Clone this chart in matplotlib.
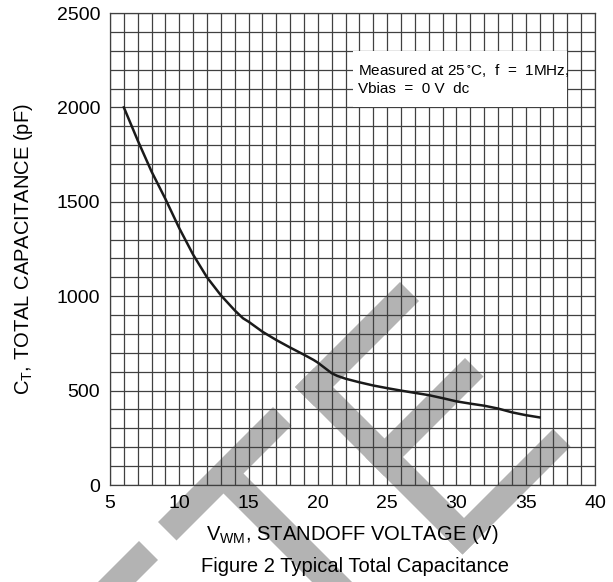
import numpy as np
import matplotlib
matplotlib.use('Agg')
import matplotlib.pyplot as plt
from matplotlib.patches import Polygon, Rectangle

plt.rcParams['font.family'] = ['Liberation Sans', 'DejaVu Sans']

# curve
volts = [6, 7, 8, 9, 10, 11, 12, 13, 14, 14.6, 15, 16, 17, 18, 19, 19.7, 20, 21, 21.4,
         22, 23, 24, 25, 26, 27, 28, 29, 30, 31, 32, 33, 34, 35, 36]
cap_pf = [2000, 1825, 1660, 1515, 1360, 1220, 1100, 1005, 925, 883, 865, 812, 768, 728, 690, 662,
          648, 592, 578, 563, 544, 527, 513, 500, 488, 476, 460, 443, 431, 420, 405, 385, 370, 358]

x_ticks = [5, 10, 15, 20, 25, 30, 35, 40]
y_ticks = [0, 500, 1000, 1500, 2000, 2500]
note_lines = ['Measured at 25$\\mathregular{\\,^{\\circ}}$C,  f  =  1MHz,', 'Vbias  =  0 V  dc']

W, H = 613, 582
fig = plt.figure(figsize=(W / 100, H / 100), dpi=100)
ax = fig.add_axes([110 / W, 1 - 485 / H, 485 / W, 472 / H])
ax.patch.set_visible(False)

# grey watermark strokes, (s0, s1, d0, d1) in pixel s=x+y, d=y-x
marks = [(680, 718, 402, 700), (680, 717, 134, 364), (716, 1000, 230, 270),
         (682, 1017, 54, 92), (682, 720, -118, 92), (823, 860, -107, 92), (982, 1017, -124, 92)]
for s0, s1, d0, d1 in marks:
    pts = []
    for s, d in [(s0, d0), (s1, d0), (s1, d1), (s0, d1)]:
        px, py = (s - d) / 2, (s + d) / 2
        pts.append((px / W, 1 - py / H))
    ax.add_patch(Polygon(pts, closed=True, facecolor='#b3b3b3', edgecolor='none',
                         transform=fig.transFigure, clip_on=False, zorder=0.5))

ax.plot(volts, cap_pf, color='#1a1a1a', lw=1.8, zorder=2)

ax.set_xlim(5, 40)
ax.set_ylim(0, 2500)
ax.set_xticks(x_ticks)
ax.set_yticks(y_ticks)
ax.set_xticks(np.arange(5, 41, 1), minor=True)
ax.set_yticks(np.arange(0, 2501, 100), minor=True)
ax.grid(which='both', color='#404040', lw=0.9, zorder=1.5)
ax.tick_params(which='both', length=0, labelsize=14)
ax.tick_params(axis='x', pad=7)
ax.tick_params(axis='y', pad=7)
for sp in ax.spines.values():
    sp.set_color('#404040')
    sp.set_linewidth(0.9)

# note box
ax.add_patch(Rectangle((22.5, 2000), 15.5, 300, facecolor='white', edgecolor='none', zorder=3))
ax.text(22.9, 2198, note_lines[0], fontsize=11, va='center', ha='left', zorder=4)
ax.text(22.9, 2097, note_lines[1], fontsize=11, va='center', ha='left', zorder=4)

ax.set_xlabel('$\\mathregular{V_{WM}}$, STANDOFF VOLTAGE (V)', fontsize=14.5, labelpad=8)
ax.set_ylabel('$\\mathregular{C_T}$, TOTAL CAPACITANCE (pF)', fontsize=14.5, labelpad=16)
fig.text(355 / W, 1 - 566 / H, 'Figure 2 Typical Total Capacitance', fontsize=14.5,
         ha='center', va='center')

fig.savefig('out.png', dpi=100)
